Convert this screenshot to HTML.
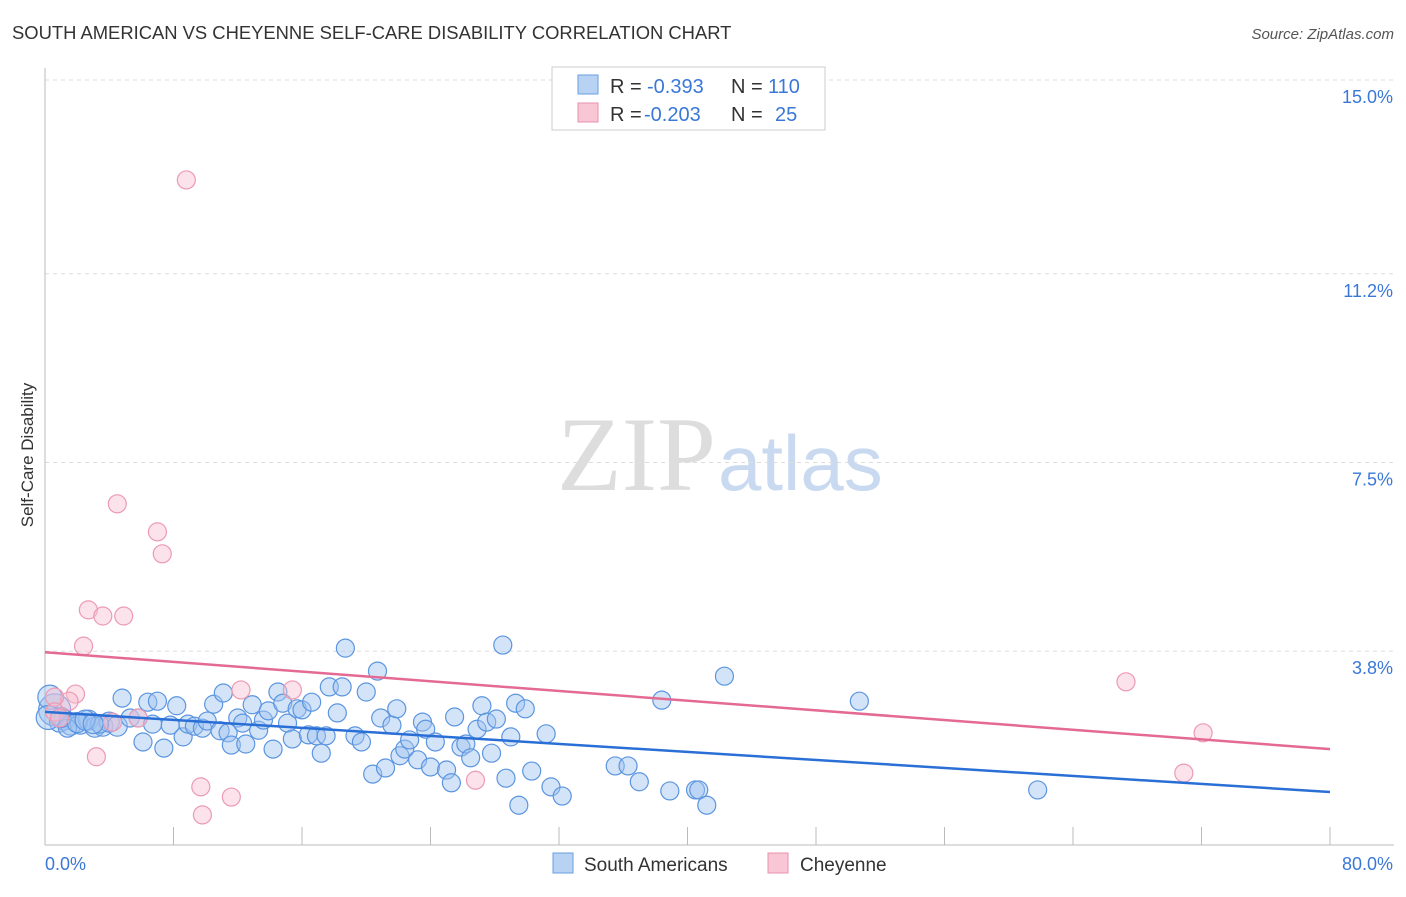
<!DOCTYPE html>
<html><head><meta charset="utf-8"><style>
body{margin:0;background:#fff;font-family:"Liberation Sans",sans-serif}
</style></head><body>
<svg id="c" width="1406" height="892" xmlns="http://www.w3.org/2000/svg" style="font-family:'Liberation Sans',sans-serif">
<text x="12" y="39" font-size="18.4" fill="#333">SOUTH AMERICAN VS CHEYENNE SELF-CARE DISABILITY CORRELATION CHART</text>
<text x="1394" y="39" font-size="15" fill="#555" font-style="italic" text-anchor="end">Source: ZipAtlas.com</text>
<text x="716" y="490" font-size="106" fill="#ddd" text-anchor="end" font-family="Liberation Serif">ZIP</text>
<text x="718" y="490" font-size="78" fill="#c9daf0">atlas</text>
<text transform="translate(33,455) rotate(-90)" font-size="17" fill="#333" text-anchor="middle">Self-Care Disability</text>
<g id="grid"></g><g id="marks"></g>
<g>
<rect x="552" y="67" width="273" height="63" fill="#fff" stroke="#ccc"/>
<rect x="578" y="75" width="20" height="19" fill="#b8d2f4" stroke="#6a9ee0"/>
<rect x="578" y="103" width="20" height="19" fill="#f8c6d5" stroke="#e891ac"/>
<text x="610" y="93" font-size="20" fill="#333">R =</text>
<text x="647" y="93" font-size="20" fill="#3a78d8">-0.393</text>
<text x="731" y="93" font-size="20" fill="#333">N =</text>
<text x="768" y="93" font-size="20" fill="#3a78d8">110</text>
<text x="610" y="121" font-size="20" fill="#333">R =</text>
<text x="644" y="121" font-size="20" fill="#3a78d8">-0.203</text>
<text x="731" y="121" font-size="20" fill="#333">N =</text>
<text x="775" y="121" font-size="20" fill="#3a78d8">25</text>
</g>
<g>
<rect x="553" y="853" width="20" height="20" fill="#b8d2f4" stroke="#6a9ee0"/>
<text x="584" y="871" font-size="19" fill="#333">South Americans</text>
<rect x="768" y="853" width="20" height="20" fill="#f8c6d5" stroke="#e891ac"/>
<text x="800" y="871" font-size="19" fill="#333">Cheyenne</text>
</g>
</svg>
<script>
const yTicks=[3.8,7.5,11.2,15.0];
const yTickLabels=["3.8%","7.5%","11.2%","15.0%"];
const blueX=[0.6,0.9,1.2,1.6,2.2,2.7,3.1,3.6,4.0,4.5,4.8,5.3,5.8,6.1,6.4,7.0,6.7,7.4,7.8,8.2,8.6,8.9,9.3,9.8,10.1,10.5,10.9,11.1,11.4,11.6,12.0,12.3,12.5,12.9,13.3,13.6,13.9,14.2,14.5,14.8,15.1,15.4,15.7,16.0,16.4,16.6,16.9,17.2,17.5,17.7,18.2,18.5,18.7,19.3,19.7,20.0,20.4,20.7,20.9,21.2,21.6,21.9,22.1,22.4,22.7,23.2,23.5,23.7,24.0,24.3,25.0,25.3,25.5,25.9,26.2,26.5,26.9,27.2,27.5,27.8,28.1,28.5,28.7,29.0,29.3,29.5,29.9,30.3,31.2,31.5,32.2,35.5,36.3,37.0,38.4,38.9,40.5,40.7,41.2,42.3,50.7,61.8,1.4,3.4,0.3,1.0,2.0,2.5,3.0,0.2];
const blueY=[2.65,2.41,2.45,2.35,2.37,2.45,2.31,2.33,2.41,2.33,2.88,2.49,2.49,2.02,2.80,2.82,2.37,1.90,2.35,2.73,2.12,2.37,2.33,2.29,2.43,2.76,2.24,2.98,2.20,1.96,2.49,2.39,1.98,2.75,2.25,2.45,2.63,1.88,3.0,2.78,2.39,2.08,2.67,2.65,2.16,2.80,2.14,1.80,2.14,3.10,2.59,3.10,3.86,2.14,2.02,3.0,1.39,3.41,2.49,1.51,2.35,2.67,1.75,1.88,2.06,1.67,2.41,2.27,1.53,2.02,1.47,1.22,2.51,1.92,1.98,1.71,2.27,2.73,2.41,1.80,2.47,3.92,1.31,2.12,2.78,0.78,2.67,1.45,2.18,1.14,0.96,1.55,1.55,1.24,2.84,1.06,1.08,1.08,0.78,3.31,2.82,1.08,2.29,2.37,2.9,2.5,2.4,2.45,2.38,2.5];
const blueR=[16,10,10,10,10,10,10,10,10,10,9,9,9,9,9,9,9,9,9,9,9,9,9,9,9,9,9,9,9,9,9,9,9,9,9,9,9,9,9,9,9,9,9,9,9,9,9,9,9,9,9,9,9,9,9,9,9,9,9,9,9,9,9,9,9,9,9,9,9,9,9,9,9,9,9,9,9,9,9,9,9,9,9,9,9,9,9,9,9,9,9,9,9,9,9,9,9,9,9,9,9,9,9,9,12,10,10,10,10,12];
const pinkX=[8.8,4.5,7.0,7.3,2.7,3.6,4.9,2.4,1.9,1.5,0.6,0.6,0.9,4.2,5.8,12.2,15.4,3.2,9.7,11.6,9.8,26.8,67.3,72.1,70.9];
const pinkY=[13.04,6.69,6.14,5.71,4.61,4.49,4.49,3.90,2.96,2.82,2.90,2.61,2.49,2.41,2.49,3.04,3.04,1.73,1.14,0.94,0.59,1.27,3.20,2.20,1.41];
const blueTrend=[2.61,1.04];
const pinkTrend=[3.78,1.88];
const X=v=>45+v*(1285/80), Y=v=>845-v*51;
const NS="http://www.w3.org/2000/svg";
const grid=document.getElementById('grid'), marks=document.getElementById('marks');
function mk(tag,attrs,parent){const e=document.createElementNS(NS,tag);for(const k in attrs)e.setAttribute(k,attrs[k]);parent.appendChild(e);return e;}
yTicks.forEach((t,i)=>{
const l=mk('line',{x1:45,x2:1394,y1:Y(t),y2:Y(t),stroke:'#ddd','stroke-dasharray':'4 4'},grid);


const tx=mk('text',{x:1393,y:Y(t)+23,'font-size':18,fill:'#3a78d8','text-anchor':'end'},grid);
tx.textContent=yTickLabels[i];


});
const ax=mk('line',{x1:45,x2:45,y1:68,y2:845,stroke:'#bbb'},grid);


const bx=mk('line',{x1:45,x2:1394,y1:845,y2:845,stroke:'#bbb'},grid);


for(let v=8;v<=80;v+=8){const t=mk('line',{x1:X(v),x2:X(v),y1:827,y2:845,stroke:'#bbb'},grid);

}
[["0.0%",45,'start'],["80.0%",1393,'end']].forEach(a=>{const t=mk('text',{x:a[1],y:870,'font-size':18,fill:'#3a78d8','text-anchor':a[2]},grid);t.textContent=a[0];

});
blueX.forEach((v,i)=>{const c=mk('circle',{cx:X(v),cy:Y(blueY[i]),r:blueR[i]||9,fill:'rgba(160,195,240,0.45)',stroke:'#5b95e0','stroke-width':1.2},marks);

});
pinkX.forEach((v,i)=>{const c=mk('circle',{cx:X(v),cy:Y(pinkY[i]),r:9,fill:'rgba(248,190,208,0.45)',stroke:'#ec9ab4','stroke-width':1.2},marks);

});
const bl=mk('line',{x1:X(0),y1:Y(blueTrend[0]),x2:X(80),y2:Y(blueTrend[1]),stroke:'#2a6fd6','stroke-width':2.5},marks);


const pl=mk('line',{x1:X(0),y1:Y(pinkTrend[0]),x2:X(80),y2:Y(pinkTrend[1]),stroke:'#e46a93','stroke-width':2.5},marks);


</script>
</body></html>
